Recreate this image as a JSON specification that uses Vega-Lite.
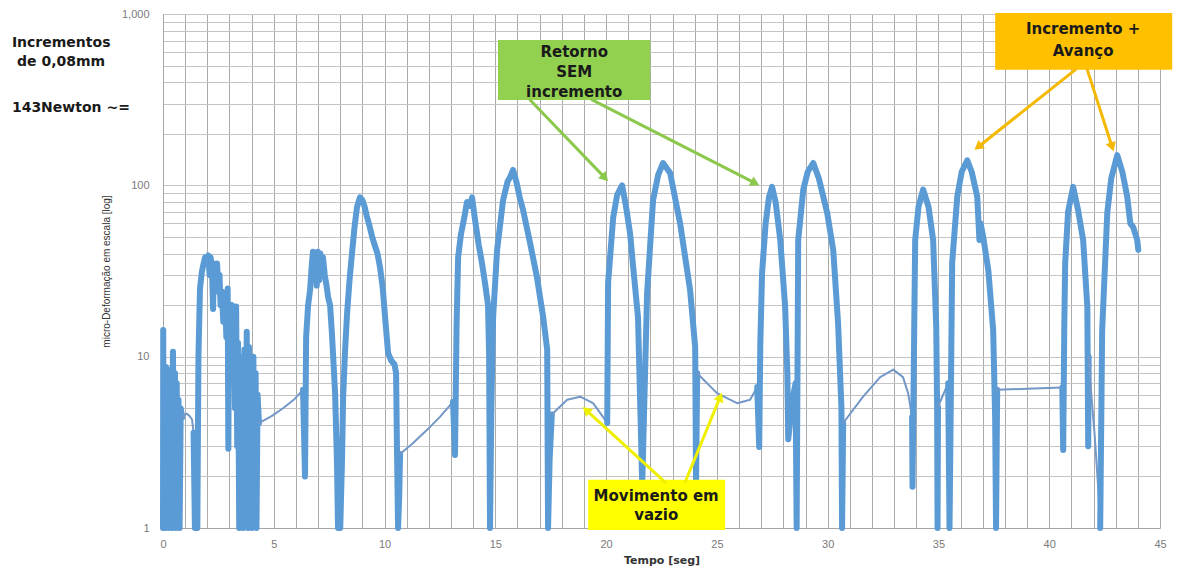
{
  "$schema": "https://vega.github.io/schema/vega-lite/v6.json",
  "width": 997,
  "height": 514,
  "autosize": {"type": "none"},
  "padding": {"left": 163, "top": 14, "right": 30, "bottom": 43},
  "background": "white",
  "config": {"view": {"stroke": null}, "font": "DejaVu Sans"},
  "datasets": {
    "sinal": [
      {"t": 0.00, "v": 1, "seg": 1, "tipo": "ativo"},
      {"t": 0.01, "v": 14.3, "seg": 1, "tipo": "ativo"},
      {"t": 0.03, "v": 1.2, "seg": 1, "tipo": "ativo"},
      {"t": 0.06, "v": 8.5, "seg": 1, "tipo": "ativo"},
      {"t": 0.09, "v": 1, "seg": 1, "tipo": "ativo"},
      {"t": 0.13, "v": 8.7, "seg": 1, "tipo": "ativo"},
      {"t": 0.17, "v": 1.3, "seg": 1, "tipo": "ativo"},
      {"t": 0.20, "v": 8, "seg": 1, "tipo": "ativo"},
      {"t": 0.24, "v": 1, "seg": 1, "tipo": "ativo"},
      {"t": 0.28, "v": 8.4, "seg": 1, "tipo": "ativo"},
      {"t": 0.32, "v": 1.1, "seg": 1, "tipo": "ativo"},
      {"t": 0.36, "v": 7.5, "seg": 1, "tipo": "ativo"},
      {"t": 0.40, "v": 1, "seg": 1, "tipo": "ativo"},
      {"t": 0.45, "v": 10.7, "seg": 1, "tipo": "ativo"},
      {"t": 0.50, "v": 1.2, "seg": 1, "tipo": "ativo"},
      {"t": 0.54, "v": 8, "seg": 1, "tipo": "ativo"},
      {"t": 0.58, "v": 1, "seg": 1, "tipo": "ativo"},
      {"t": 0.62, "v": 7, "seg": 1, "tipo": "ativo"},
      {"t": 0.66, "v": 1.1, "seg": 1, "tipo": "ativo"},
      {"t": 0.70, "v": 5.6, "seg": 1, "tipo": "ativo"},
      {"t": 0.75, "v": 1, "seg": 1, "tipo": "ativo"},
      {"t": 0.80, "v": 5, "seg": 1, "tipo": "ativo"},
      {"t": 0.86, "v": 4.4, "seg": 1, "tipo": "ativo"},
      {"t": 0.86, "v": 4.4, "seg": 2, "tipo": "vazio"},
      {"t": 0.97, "v": 4.6, "seg": 2, "tipo": "vazio"},
      {"t": 1.08, "v": 4.65, "seg": 2, "tipo": "vazio"},
      {"t": 1.20, "v": 4.5, "seg": 2, "tipo": "vazio"},
      {"t": 1.31, "v": 4.3, "seg": 2, "tipo": "vazio"},
      {"t": 1.38, "v": 3.6, "seg": 2, "tipo": "vazio"},
      {"t": 1.38, "v": 3.6, "seg": 3, "tipo": "ativo"},
      {"t": 1.44, "v": 1, "seg": 3, "tipo": "ativo"},
      {"t": 1.50, "v": 2.2, "seg": 3, "tipo": "ativo"},
      {"t": 1.55, "v": 1, "seg": 3, "tipo": "ativo"},
      {"t": 1.60, "v": 10, "seg": 3, "tipo": "ativo"},
      {"t": 1.67, "v": 25, "seg": 3, "tipo": "ativo"},
      {"t": 1.75, "v": 31, "seg": 3, "tipo": "ativo"},
      {"t": 1.81, "v": 34, "seg": 3, "tipo": "ativo"},
      {"t": 1.90, "v": 38, "seg": 3, "tipo": "ativo"},
      {"t": 1.99, "v": 35, "seg": 3, "tipo": "ativo"},
      {"t": 2.05, "v": 39, "seg": 3, "tipo": "ativo"},
      {"t": 2.10, "v": 30, "seg": 3, "tipo": "ativo"},
      {"t": 2.15, "v": 38, "seg": 3, "tipo": "ativo"},
      {"t": 2.21, "v": 33, "seg": 3, "tipo": "ativo"},
      {"t": 2.26, "v": 19, "seg": 3, "tipo": "ativo"},
      {"t": 2.30, "v": 35, "seg": 3, "tipo": "ativo"},
      {"t": 2.37, "v": 28, "seg": 3, "tipo": "ativo"},
      {"t": 2.44, "v": 35, "seg": 3, "tipo": "ativo"},
      {"t": 2.50, "v": 24, "seg": 3, "tipo": "ativo"},
      {"t": 2.55, "v": 30, "seg": 3, "tipo": "ativo"},
      {"t": 2.60, "v": 20, "seg": 3, "tipo": "ativo"},
      {"t": 2.66, "v": 24, "seg": 3, "tipo": "ativo"},
      {"t": 2.72, "v": 16, "seg": 3, "tipo": "ativo"},
      {"t": 2.80, "v": 22, "seg": 3, "tipo": "ativo"},
      {"t": 2.86, "v": 13, "seg": 3, "tipo": "ativo"},
      {"t": 2.92, "v": 25, "seg": 3, "tipo": "ativo"},
      {"t": 2.95, "v": 2.9, "seg": 3, "tipo": "ativo"},
      {"t": 2.98, "v": 18, "seg": 3, "tipo": "ativo"},
      {"t": 3.05, "v": 10, "seg": 3, "tipo": "ativo"},
      {"t": 3.10, "v": 20, "seg": 3, "tipo": "ativo"},
      {"t": 3.16, "v": 12, "seg": 3, "tipo": "ativo"},
      {"t": 3.20, "v": 16, "seg": 3, "tipo": "ativo"},
      {"t": 3.25, "v": 5, "seg": 3, "tipo": "ativo"},
      {"t": 3.30, "v": 19.6, "seg": 3, "tipo": "ativo"},
      {"t": 3.35, "v": 3, "seg": 3, "tipo": "ativo"},
      {"t": 3.39, "v": 12, "seg": 3, "tipo": "ativo"},
      {"t": 3.44, "v": 1, "seg": 3, "tipo": "ativo"},
      {"t": 3.48, "v": 9.2, "seg": 3, "tipo": "ativo"},
      {"t": 3.52, "v": 1.5, "seg": 3, "tipo": "ativo"},
      {"t": 3.58, "v": 10, "seg": 3, "tipo": "ativo"},
      {"t": 3.62, "v": 1, "seg": 3, "tipo": "ativo"},
      {"t": 3.68, "v": 11, "seg": 3, "tipo": "ativo"},
      {"t": 3.72, "v": 1.2, "seg": 3, "tipo": "ativo"},
      {"t": 3.78, "v": 14, "seg": 3, "tipo": "ativo"},
      {"t": 3.83, "v": 1, "seg": 3, "tipo": "ativo"},
      {"t": 3.88, "v": 11.4, "seg": 3, "tipo": "ativo"},
      {"t": 3.93, "v": 1.3, "seg": 3, "tipo": "ativo"},
      {"t": 3.98, "v": 9, "seg": 3, "tipo": "ativo"},
      {"t": 4.03, "v": 1, "seg": 3, "tipo": "ativo"},
      {"t": 4.08, "v": 10, "seg": 3, "tipo": "ativo"},
      {"t": 4.13, "v": 1.1, "seg": 3, "tipo": "ativo"},
      {"t": 4.18, "v": 8, "seg": 3, "tipo": "ativo"},
      {"t": 4.22, "v": 1, "seg": 3, "tipo": "ativo"},
      {"t": 4.27, "v": 6, "seg": 3, "tipo": "ativo"},
      {"t": 4.33, "v": 4.1, "seg": 3, "tipo": "ativo"},
      {"t": 4.33, "v": 4.1, "seg": 4, "tipo": "vazio"},
      {"t": 4.90, "v": 4.5, "seg": 4, "tipo": "vazio"},
      {"t": 5.42, "v": 5.0, "seg": 4, "tipo": "vazio"},
      {"t": 5.90, "v": 5.6, "seg": 4, "tipo": "vazio"},
      {"t": 6.32, "v": 6.4, "seg": 4, "tipo": "vazio"},
      {"t": 6.32, "v": 6.4, "seg": 5, "tipo": "ativo"},
      {"t": 6.41, "v": 2.0, "seg": 5, "tipo": "ativo"},
      {"t": 6.46, "v": 13, "seg": 5, "tipo": "ativo"},
      {"t": 6.55, "v": 20, "seg": 5, "tipo": "ativo"},
      {"t": 6.64, "v": 24.6, "seg": 5, "tipo": "ativo"},
      {"t": 6.72, "v": 35, "seg": 5, "tipo": "ativo"},
      {"t": 6.77, "v": 41, "seg": 5, "tipo": "ativo"},
      {"t": 6.82, "v": 28, "seg": 5, "tipo": "ativo"},
      {"t": 6.88, "v": 40, "seg": 5, "tipo": "ativo"},
      {"t": 6.94, "v": 26, "seg": 5, "tipo": "ativo"},
      {"t": 6.99, "v": 41, "seg": 5, "tipo": "ativo"},
      {"t": 7.05, "v": 28, "seg": 5, "tipo": "ativo"},
      {"t": 7.10, "v": 40, "seg": 5, "tipo": "ativo"},
      {"t": 7.16, "v": 30, "seg": 5, "tipo": "ativo"},
      {"t": 7.22, "v": 38, "seg": 5, "tipo": "ativo"},
      {"t": 7.30, "v": 30, "seg": 5, "tipo": "ativo"},
      {"t": 7.38, "v": 26, "seg": 5, "tipo": "ativo"},
      {"t": 7.46, "v": 22, "seg": 5, "tipo": "ativo"},
      {"t": 7.54, "v": 20, "seg": 5, "tipo": "ativo"},
      {"t": 7.62, "v": 14, "seg": 5, "tipo": "ativo"},
      {"t": 7.70, "v": 9, "seg": 5, "tipo": "ativo"},
      {"t": 7.77, "v": 6, "seg": 5, "tipo": "ativo"},
      {"t": 7.85, "v": 2.5, "seg": 5, "tipo": "ativo"},
      {"t": 7.90, "v": 1, "seg": 5, "tipo": "ativo"},
      {"t": 8.00, "v": 1, "seg": 5, "tipo": "ativo"},
      {"t": 8.08, "v": 2.5, "seg": 5, "tipo": "ativo"},
      {"t": 8.13, "v": 5.8, "seg": 5, "tipo": "ativo"},
      {"t": 8.22, "v": 11, "seg": 5, "tipo": "ativo"},
      {"t": 8.31, "v": 18, "seg": 5, "tipo": "ativo"},
      {"t": 8.42, "v": 28, "seg": 5, "tipo": "ativo"},
      {"t": 8.53, "v": 40, "seg": 5, "tipo": "ativo"},
      {"t": 8.65, "v": 58, "seg": 5, "tipo": "ativo"},
      {"t": 8.76, "v": 75, "seg": 5, "tipo": "ativo"},
      {"t": 8.89, "v": 85, "seg": 5, "tipo": "ativo"},
      {"t": 9.00, "v": 82, "seg": 5, "tipo": "ativo"},
      {"t": 9.10, "v": 75, "seg": 5, "tipo": "ativo"},
      {"t": 9.20, "v": 66, "seg": 5, "tipo": "ativo"},
      {"t": 9.32, "v": 58, "seg": 5, "tipo": "ativo"},
      {"t": 9.44, "v": 50, "seg": 5, "tipo": "ativo"},
      {"t": 9.55, "v": 45, "seg": 5, "tipo": "ativo"},
      {"t": 9.68, "v": 40, "seg": 5, "tipo": "ativo"},
      {"t": 9.80, "v": 33, "seg": 5, "tipo": "ativo"},
      {"t": 9.92, "v": 25, "seg": 5, "tipo": "ativo"},
      {"t": 10.04, "v": 16, "seg": 5, "tipo": "ativo"},
      {"t": 10.16, "v": 10.5, "seg": 5, "tipo": "ativo"},
      {"t": 10.30, "v": 9.5, "seg": 5, "tipo": "ativo"},
      {"t": 10.45, "v": 9, "seg": 5, "tipo": "ativo"},
      {"t": 10.52, "v": 8, "seg": 5, "tipo": "ativo"},
      {"t": 10.56, "v": 3, "seg": 5, "tipo": "ativo"},
      {"t": 10.61, "v": 1, "seg": 5, "tipo": "ativo"},
      {"t": 10.66, "v": 1.5, "seg": 5, "tipo": "ativo"},
      {"t": 10.70, "v": 2.7, "seg": 5, "tipo": "ativo"},
      {"t": 10.70, "v": 2.7, "seg": 6, "tipo": "vazio"},
      {"t": 11.29, "v": 3.13, "seg": 6, "tipo": "vazio"},
      {"t": 11.92, "v": 3.74, "seg": 6, "tipo": "vazio"},
      {"t": 12.50, "v": 4.45, "seg": 6, "tipo": "vazio"},
      {"t": 13.09, "v": 5.45, "seg": 6, "tipo": "vazio"},
      {"t": 13.09, "v": 5.45, "seg": 7, "tipo": "ativo"},
      {"t": 13.18, "v": 2.67, "seg": 7, "tipo": "ativo"},
      {"t": 13.25, "v": 15, "seg": 7, "tipo": "ativo"},
      {"t": 13.32, "v": 38, "seg": 7, "tipo": "ativo"},
      {"t": 13.45, "v": 52, "seg": 7, "tipo": "ativo"},
      {"t": 13.60, "v": 65, "seg": 7, "tipo": "ativo"},
      {"t": 13.72, "v": 80, "seg": 7, "tipo": "ativo"},
      {"t": 13.85, "v": 76, "seg": 7, "tipo": "ativo"},
      {"t": 13.95, "v": 85, "seg": 7, "tipo": "ativo"},
      {"t": 14.09, "v": 62, "seg": 7, "tipo": "ativo"},
      {"t": 14.25, "v": 45, "seg": 7, "tipo": "ativo"},
      {"t": 14.40, "v": 35, "seg": 7, "tipo": "ativo"},
      {"t": 14.55, "v": 26, "seg": 7, "tipo": "ativo"},
      {"t": 14.67, "v": 20, "seg": 7, "tipo": "ativo"},
      {"t": 14.72, "v": 10, "seg": 7, "tipo": "ativo"},
      {"t": 14.76, "v": 1, "seg": 7, "tipo": "ativo"},
      {"t": 14.82, "v": 5, "seg": 7, "tipo": "ativo"},
      {"t": 14.90, "v": 17, "seg": 7, "tipo": "ativo"},
      {"t": 15.08, "v": 42, "seg": 7, "tipo": "ativo"},
      {"t": 15.35, "v": 82, "seg": 7, "tipo": "ativo"},
      {"t": 15.55, "v": 105, "seg": 7, "tipo": "ativo"},
      {"t": 15.67, "v": 112, "seg": 7, "tipo": "ativo"},
      {"t": 15.80, "v": 123, "seg": 7, "tipo": "ativo"},
      {"t": 15.95, "v": 105, "seg": 7, "tipo": "ativo"},
      {"t": 16.10, "v": 85, "seg": 7, "tipo": "ativo"},
      {"t": 16.25, "v": 72, "seg": 7, "tipo": "ativo"},
      {"t": 16.57, "v": 46, "seg": 7, "tipo": "ativo"},
      {"t": 16.88, "v": 29, "seg": 7, "tipo": "ativo"},
      {"t": 17.16, "v": 17, "seg": 7, "tipo": "ativo"},
      {"t": 17.34, "v": 11, "seg": 7, "tipo": "ativo"},
      {"t": 17.38, "v": 1, "seg": 7, "tipo": "ativo"},
      {"t": 17.45, "v": 2.5, "seg": 7, "tipo": "ativo"},
      {"t": 17.55, "v": 4.6, "seg": 7, "tipo": "ativo"},
      {"t": 17.55, "v": 4.6, "seg": 8, "tipo": "vazio"},
      {"t": 18.24, "v": 5.6, "seg": 8, "tipo": "vazio"},
      {"t": 18.83, "v": 5.84, "seg": 8, "tipo": "vazio"},
      {"t": 19.41, "v": 5.35, "seg": 8, "tipo": "vazio"},
      {"t": 19.86, "v": 4.45, "seg": 8, "tipo": "vazio"},
      {"t": 20.05, "v": 4.1, "seg": 8, "tipo": "vazio"},
      {"t": 20.05, "v": 4.1, "seg": 9, "tipo": "ativo"},
      {"t": 20.09, "v": 27, "seg": 9, "tipo": "ativo"},
      {"t": 20.32, "v": 65, "seg": 9, "tipo": "ativo"},
      {"t": 20.50, "v": 88, "seg": 9, "tipo": "ativo"},
      {"t": 20.72, "v": 100, "seg": 9, "tipo": "ativo"},
      {"t": 20.90, "v": 75, "seg": 9, "tipo": "ativo"},
      {"t": 21.08, "v": 52.6, "seg": 9, "tipo": "ativo"},
      {"t": 21.22, "v": 33.5, "seg": 9, "tipo": "ativo"},
      {"t": 21.44, "v": 17, "seg": 9, "tipo": "ativo"},
      {"t": 21.63, "v": 1.8, "seg": 9, "tipo": "ativo"},
      {"t": 21.85, "v": 23.5, "seg": 9, "tipo": "ativo"},
      {"t": 22.12, "v": 82, "seg": 9, "tipo": "ativo"},
      {"t": 22.35, "v": 115, "seg": 9, "tipo": "ativo"},
      {"t": 22.57, "v": 135, "seg": 9, "tipo": "ativo"},
      {"t": 22.89, "v": 118, "seg": 9, "tipo": "ativo"},
      {"t": 23.34, "v": 60, "seg": 9, "tipo": "ativo"},
      {"t": 23.79, "v": 24.5, "seg": 9, "tipo": "ativo"},
      {"t": 24.02, "v": 11.4, "seg": 9, "tipo": "ativo"},
      {"t": 24.06, "v": 1.8, "seg": 9, "tipo": "ativo"},
      {"t": 24.11, "v": 8.0, "seg": 9, "tipo": "ativo"},
      {"t": 24.11, "v": 8.0, "seg": 10, "tipo": "vazio"},
      {"t": 25.00, "v": 6.13, "seg": 10, "tipo": "vazio"},
      {"t": 25.91, "v": 5.35, "seg": 10, "tipo": "vazio"},
      {"t": 26.50, "v": 5.6, "seg": 10, "tipo": "vazio"},
      {"t": 26.82, "v": 6.66, "seg": 10, "tipo": "vazio"},
      {"t": 26.82, "v": 6.66, "seg": 11, "tipo": "ativo"},
      {"t": 26.91, "v": 2.97, "seg": 11, "tipo": "ativo"},
      {"t": 26.96, "v": 12, "seg": 11, "tipo": "ativo"},
      {"t": 27.04, "v": 30.8, "seg": 11, "tipo": "ativo"},
      {"t": 27.20, "v": 60, "seg": 11, "tipo": "ativo"},
      {"t": 27.35, "v": 85, "seg": 11, "tipo": "ativo"},
      {"t": 27.49, "v": 98, "seg": 11, "tipo": "ativo"},
      {"t": 27.65, "v": 80, "seg": 11, "tipo": "ativo"},
      {"t": 27.86, "v": 48, "seg": 11, "tipo": "ativo"},
      {"t": 28.08, "v": 19.6, "seg": 11, "tipo": "ativo"},
      {"t": 28.18, "v": 8, "seg": 11, "tipo": "ativo"},
      {"t": 28.22, "v": 3.3, "seg": 11, "tipo": "ativo"},
      {"t": 28.40, "v": 5.5, "seg": 11, "tipo": "ativo"},
      {"t": 28.55, "v": 7, "seg": 11, "tipo": "ativo"},
      {"t": 28.60, "v": 1, "seg": 11, "tipo": "ativo"},
      {"t": 28.67, "v": 48, "seg": 11, "tipo": "ativo"},
      {"t": 28.90, "v": 94.5, "seg": 11, "tipo": "ativo"},
      {"t": 29.10, "v": 120, "seg": 11, "tipo": "ativo"},
      {"t": 29.35, "v": 135, "seg": 11, "tipo": "ativo"},
      {"t": 29.60, "v": 110, "seg": 11, "tipo": "ativo"},
      {"t": 29.98, "v": 69, "seg": 11, "tipo": "ativo"},
      {"t": 30.25, "v": 42, "seg": 11, "tipo": "ativo"},
      {"t": 30.47, "v": 15.7, "seg": 11, "tipo": "ativo"},
      {"t": 30.62, "v": 5.1, "seg": 11, "tipo": "ativo"},
      {"t": 30.65, "v": 1, "seg": 11, "tipo": "ativo"},
      {"t": 30.70, "v": 4.1, "seg": 11, "tipo": "ativo"},
      {"t": 30.70, "v": 4.1, "seg": 12, "tipo": "vazio"},
      {"t": 31.60, "v": 5.84, "seg": 12, "tipo": "vazio"},
      {"t": 32.37, "v": 7.6, "seg": 12, "tipo": "vazio"},
      {"t": 32.96, "v": 8.4, "seg": 12, "tipo": "vazio"},
      {"t": 33.40, "v": 7.6, "seg": 12, "tipo": "vazio"},
      {"t": 33.63, "v": 6.13, "seg": 12, "tipo": "vazio"},
      {"t": 33.81, "v": 4.45, "seg": 12, "tipo": "vazio"},
      {"t": 33.81, "v": 4.45, "seg": 13, "tipo": "ativo"},
      {"t": 33.83, "v": 1.74, "seg": 13, "tipo": "ativo"},
      {"t": 33.95, "v": 48, "seg": 13, "tipo": "ativo"},
      {"t": 34.10, "v": 75, "seg": 13, "tipo": "ativo"},
      {"t": 34.31, "v": 94.5, "seg": 13, "tipo": "ativo"},
      {"t": 34.55, "v": 75, "seg": 13, "tipo": "ativo"},
      {"t": 34.76, "v": 48, "seg": 13, "tipo": "ativo"},
      {"t": 34.90, "v": 15, "seg": 13, "tipo": "ativo"},
      {"t": 34.94, "v": 5.1, "seg": 13, "tipo": "ativo"},
      {"t": 34.96, "v": 1, "seg": 13, "tipo": "ativo"},
      {"t": 34.98, "v": 5.1, "seg": 13, "tipo": "ativo"},
      {"t": 34.98, "v": 5.1, "seg": 14, "tipo": "vazio"},
      {"t": 35.44, "v": 7.0, "seg": 14, "tipo": "vazio"},
      {"t": 35.44, "v": 7.0, "seg": 15, "tipo": "ativo"},
      {"t": 35.50, "v": 1, "seg": 15, "tipo": "ativo"},
      {"t": 35.62, "v": 35.4, "seg": 15, "tipo": "ativo"},
      {"t": 35.85, "v": 86, "seg": 15, "tipo": "ativo"},
      {"t": 36.05, "v": 120, "seg": 15, "tipo": "ativo"},
      {"t": 36.30, "v": 140, "seg": 15, "tipo": "ativo"},
      {"t": 36.50, "v": 120, "seg": 15, "tipo": "ativo"},
      {"t": 36.75, "v": 86, "seg": 15, "tipo": "ativo"},
      {"t": 36.85, "v": 48, "seg": 15, "tipo": "ativo"},
      {"t": 36.90, "v": 60, "seg": 15, "tipo": "ativo"},
      {"t": 37.02, "v": 50, "seg": 15, "tipo": "ativo"},
      {"t": 37.25, "v": 32, "seg": 15, "tipo": "ativo"},
      {"t": 37.47, "v": 14.3, "seg": 15, "tipo": "ativo"},
      {"t": 37.56, "v": 4.4, "seg": 15, "tipo": "ativo"},
      {"t": 37.60, "v": 1, "seg": 15, "tipo": "ativo"},
      {"t": 37.65, "v": 6.4, "seg": 15, "tipo": "ativo"},
      {"t": 37.65, "v": 6.4, "seg": 16, "tipo": "vazio"},
      {"t": 39.00, "v": 6.5, "seg": 16, "tipo": "vazio"},
      {"t": 40.59, "v": 6.6, "seg": 16, "tipo": "vazio"},
      {"t": 40.59, "v": 6.6, "seg": 17, "tipo": "ativo"},
      {"t": 40.63, "v": 2.85, "seg": 17, "tipo": "ativo"},
      {"t": 40.68, "v": 15, "seg": 17, "tipo": "ativo"},
      {"t": 40.72, "v": 35, "seg": 17, "tipo": "ativo"},
      {"t": 40.85, "v": 70, "seg": 17, "tipo": "ativo"},
      {"t": 41.08, "v": 98, "seg": 17, "tipo": "ativo"},
      {"t": 41.30, "v": 72, "seg": 17, "tipo": "ativo"},
      {"t": 41.53, "v": 48, "seg": 17, "tipo": "ativo"},
      {"t": 41.72, "v": 19.6, "seg": 17, "tipo": "ativo"},
      {"t": 41.76, "v": 3.0, "seg": 17, "tipo": "ativo"},
      {"t": 41.78, "v": 10, "seg": 17, "tipo": "ativo"},
      {"t": 41.78, "v": 10, "seg": 18, "tipo": "vazio"},
      {"t": 41.90, "v": 6, "seg": 18, "tipo": "vazio"},
      {"t": 42.05, "v": 3.5, "seg": 18, "tipo": "vazio"},
      {"t": 42.20, "v": 1.8, "seg": 18, "tipo": "vazio"},
      {"t": 42.30, "v": 1, "seg": 18, "tipo": "vazio"},
      {"t": 42.30, "v": 1, "seg": 19, "tipo": "ativo"},
      {"t": 42.39, "v": 14.3, "seg": 19, "tipo": "ativo"},
      {"t": 42.62, "v": 69, "seg": 19, "tipo": "ativo"},
      {"t": 42.80, "v": 110, "seg": 19, "tipo": "ativo"},
      {"t": 43.07, "v": 150, "seg": 19, "tipo": "ativo"},
      {"t": 43.30, "v": 120, "seg": 19, "tipo": "ativo"},
      {"t": 43.52, "v": 86, "seg": 19, "tipo": "ativo"},
      {"t": 43.66, "v": 60, "seg": 19, "tipo": "ativo"},
      {"t": 43.79, "v": 57, "seg": 19, "tipo": "ativo"},
      {"t": 43.97, "v": 48, "seg": 19, "tipo": "ativo"},
      {"t": 44.02, "v": 42, "seg": 19, "tipo": "ativo"}
    ],
    "caixas": [
      {"t": 15.12, "t2": 21.99, "v": 315, "v2": 706, "grupo": "verde"},
      {"t": 37.56, "t2": 45.55, "v": 472, "v2": 1014, "grupo": "laranja"},
      {"t": 19.19, "t2": 25.37, "v": 0.973, "v2": 1.91, "grupo": "amarelo"}
    ],
    "setas": [
      {"t": 16.57, "v": 315, "t2": 19.95, "v2": 110.5, "grupo": "verde"},
      {"t": 19.37, "v": 315, "t2": 26.73, "v2": 103, "grupo": "verde"},
      {"t": 41.17, "v": 472, "t2": 36.79, "v2": 167.5, "grupo": "laranja"},
      {"t": 41.72, "v": 472, "t2": 42.84, "v2": 167.5, "grupo": "laranja"},
      {"t": 22.66, "v": 1.855, "t2": 19.10, "v2": 4.88, "grupo": "amarelo"},
      {"t": 23.57, "v": 1.855, "t2": 25.15, "v2": 5.82, "grupo": "amarelo"}
    ],
    "rotulos": [
      {"t": 18.56, "v": 601, "texto": "Retorno"},
      {"t": 18.56, "v": 459, "texto": "SEM"},
      {"t": 18.56, "v": 351, "texto": "incremento"},
      {"t": 41.53, "v": 818, "texto": "Incremento +"},
      {"t": 41.53, "v": 609, "texto": "Avanço"},
      {"t": 22.26, "v": 1.538, "texto": "Movimento em"},
      {"t": 22.26, "v": 1.191, "texto": "vazio"}
    ],
    "notas": [
      {"t": -6.82, "v": 678, "texto": "Incrementos"},
      {"t": -6.59, "v": 525, "texto": "de 0,08mm"},
      {"t": -6.82, "v": 283, "texto": "143Newton  ~="}
    ]
  },
  "layer": [
    {
      "data": {"name": "sinal"},
      "mark": {"type": "line", "strokeJoin": "round", "strokeCap": "round"},
      "encoding": {
        "x": {
          "field": "t", "type": "quantitative",
          "scale": {"domain": [0, 45], "nice": false, "zero": false},
          "axis": {
            "title": "Tempo [seg]",
            "values": [0, 5, 10, 15, 20, 25, 30, 35, 40, 45],
            "labelOverlap": false,
            "labelFlush": false,
            "grid": true, "gridColor": "#ABABAB", "gridWidth": 1,
            "ticks": false, "domainColor": "#A6A6A6",
            "labelColor": "#7A7A7A", "labelFontSize": 11, "labelPadding": 10,
            "labelFont": "Liberation Sans",
            "titleFont": "DejaVu Sans", "titleFontWeight": "bold", "titleFontSize": 11,
            "titleColor": "#333333", "titlePadding": 5
          }
        },
        "y": {
          "field": "v", "type": "quantitative",
          "scale": {"type": "log", "domain": [1, 1000], "nice": false},
          "axis": {
            "title": "micro-Deformação em escala [log]",
            "values": [1,2,3,4,5,6,7,8,9,10,20,30,40,50,60,70,80,90,100,200,300,400,500,600,700,800,900,1000],
            "format": ",",
            "labelExpr": "(datum.value === 1 || datum.value === 10 || datum.value === 100 || datum.value === 1000) ? datum.label : ''",
            "labelOverlap": false,
            "grid": true, "gridColor": "#C4C4C4", "gridWidth": 1,
            "ticks": false, "domainColor": "#A6A6A6",
            "labelColor": "#7A7A7A", "labelFontSize": 11, "labelPadding": 14,
            "labelFont": "Liberation Sans",
            "titleFont": "Liberation Sans", "titleFontWeight": "normal", "titleFontSize": 10,
            "titleColor": "#333333", "titlePadding": 10
          }
        },
        "detail": {"field": "seg", "type": "nominal"},
        "color": {"field": "tipo", "type": "nominal", "scale": {"domain": ["ativo", "vazio"], "range": ["#5B9BD5", "#7397C6"]}, "legend": null},
        "strokeWidth": {"field": "tipo", "type": "nominal", "scale": {"domain": ["ativo", "vazio"], "range": [6, 2]}, "legend": null}
      }
    },
    {
      "data": {"name": "caixas"},
      "mark": {"type": "rect", "opacity": 1},
      "encoding": {
        "x": {"field": "t", "type": "quantitative", "axis": null},
        "x2": {"field": "t2"},
        "y": {"field": "v", "type": "quantitative"},
        "y2": {"field": "v2"},
        "color": {"field": "grupo", "type": "nominal", "scale": {"domain": ["verde", "laranja", "amarelo"], "range": ["#92D050", "#FFC000", "#FFFF00"]}, "legend": null}
      }
    },
    {
      "data": {"name": "setas"},
      "mark": {"type": "rule", "strokeWidth": 3, "strokeCap": "round"},
      "encoding": {
        "x": {"field": "t", "type": "quantitative", "axis": null},
        "x2": {"field": "t2"},
        "y": {"field": "v", "type": "quantitative"},
        "y2": {"field": "v2"},
        "color": {"field": "grupo", "type": "nominal", "scale": {"domain": ["verde", "laranja", "amarelo"], "range": ["#8CC84B", "#F5B800", "#EEF000"]}, "legend": null}
      }
    },
    {
      "data": {"name": "setas"},
      "transform": [
        {"calculate": "atan2((datum.t2 - datum.t) * 22.15, (log(datum.v2) - log(datum.v)) / LN10 * 171.3) * 180 / PI", "as": "ang"}
      ],
      "mark": {"type": "point", "shape": "triangle-up", "filled": true, "size": 110, "opacity": 1},
      "encoding": {
        "x": {"field": "t2", "type": "quantitative", "axis": null},
        "y": {"field": "v2", "type": "quantitative"},
        "angle": {"field": "ang", "type": "quantitative", "scale": null},
        "color": {"field": "grupo", "type": "nominal", "scale": {"domain": ["verde", "laranja", "amarelo"], "range": ["#8CC84B", "#F5B800", "#EEF000"]}, "legend": null}
      }
    },
    {
      "data": {"name": "rotulos"},
      "mark": {"type": "text", "font": "DejaVu Sans", "fontWeight": "bold", "fontSize": 15, "color": "#1A1A1A", "align": "center", "baseline": "middle"},
      "encoding": {
        "x": {"field": "t", "type": "quantitative", "axis": null},
        "y": {"field": "v", "type": "quantitative"},
        "text": {"field": "texto"}
      }
    },
    {
      "data": {"name": "notas"},
      "mark": {"type": "text", "font": "DejaVu Sans", "fontWeight": "bold", "fontSize": 14, "color": "#1A1A1A", "align": "left", "baseline": "middle"},
      "encoding": {
        "x": {
          "field": "t", "type": "quantitative",
          "axis": {
            "orient": "top",
            "values": [1,2,3,4,6,7,8,9,11,12,13,14,16,17,18,19,21,22,23,24,26,27,28,29,31,32,33,34,36,37,38,39,41,42,43,44],
            "grid": true, "gridColor": "#ABABAB", "gridWidth": 1,
            "labels": false, "ticks": false, "domain": false, "title": null
          }
        },
        "y": {"field": "v", "type": "quantitative"},
        "text": {"field": "texto"}
      }
    }
  ],
  "resolve": {"scale": {"color": "independent", "strokeWidth": "independent"}, "axis": {"x": "independent"}}
}
